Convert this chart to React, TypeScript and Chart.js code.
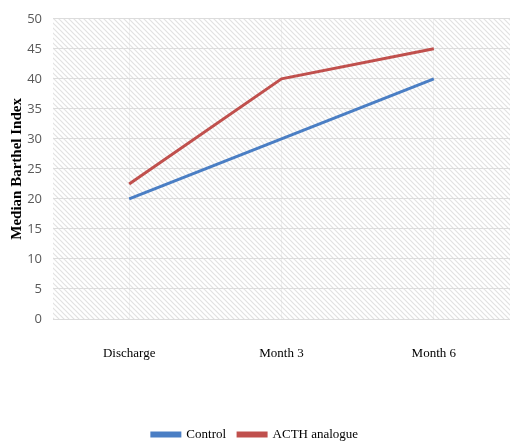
import React, { useEffect, useRef } from "react";
import { Chart, registerables } from "chart.js";

Chart.register(...registerables);

const categories = ["Discharge", "Month 3", "Month 6"];
const controlValues = [20, 30, 40];
const acthValues = [22.5, 40, 45];
const seriesNames = ["Control", "ACTH analogue"];
const yTitle = "Median Barthel Index";

const BLUE = "#4A7EC4";
const RED = "#C0504D";

function makePattern(): CanvasPattern | string {
  const n = 5;
  const c = document.createElement("canvas");
  c.width = n;
  c.height = n;
  const g = c.getContext("2d");
  if (!g) return "#fff";
  g.fillStyle = "#ffffff";
  g.fillRect(0, 0, n, n);
  g.strokeStyle = "#e2e2e2";
  g.lineWidth = 1.2;
  g.beginPath();
  g.moveTo(-1, -1);
  g.lineTo(n + 1, n + 1);
  g.moveTo(-1, n - 1);
  g.lineTo(1, n + 1);
  g.moveTo(n - 1, -1);
  g.lineTo(n + 1, 1);
  g.stroke();
  const p = g.createPattern(c, "repeat");
  return p || "#fff";
}

const hatchPlugin = {
  id: "hatch",
  beforeDraw(chart: any) {
    const { ctx, chartArea } = chart;
    if (!chartArea) return;
    ctx.save();
    ctx.fillStyle = makePattern();
    ctx.fillRect(chartArea.left, chartArea.top, chartArea.right - chartArea.left, chartArea.bottom - chartArea.top);
    ctx.restore();
  },
};

export default function App() {
  const ref = useRef<HTMLCanvasElement | null>(null);
  useEffect(() => {
    document.body.style.margin = "0";
    if (!ref.current) return;
    const chart = new Chart(ref.current, {
      type: "line",
      data: {
        labels: categories,
        datasets: [
          {
            label: seriesNames[0],
            data: controlValues,
            borderColor: BLUE,
            backgroundColor: BLUE,
            borderWidth: 3,
            pointRadius: 0,
            tension: 0,
          },
          {
            label: seriesNames[1],
            data: acthValues,
            borderColor: RED,
            backgroundColor: RED,
            borderWidth: 3,
            pointRadius: 0,
            tension: 0,
          },
        ],
      },
      options: {
        responsive: false,
        animation: false,
        devicePixelRatio: 1,
        layout: { padding: { top: 18, right: 0, left: 0, bottom: -10 } },
        plugins: {
          tooltip: { enabled: false },
          legend: {
            position: "bottom",
            labels: {
              boxWidth: 28,
              boxHeight: 3,
              padding: 12,
              color: "#000",
              font: { family: "'Liberation Serif', 'Times New Roman', serif", size: 13 },
            },
          },
        },
        scales: {
          x: {
            offset: true,
            grid: { display: true, color: "rgba(210,210,210,0.3)", drawTicks: false, offset: false },
            border: { display: false },
            ticks: {
              padding: 27,
              color: "#000",
              font: { family: "'Liberation Serif', 'Times New Roman', serif", size: 13 },
            },
            afterFit(scale: any) {
              scale.height = 97;
            },
          },
          y: {
            min: 0,
            max: 50,
            ticks: {
              stepSize: 5,
              padding: 11,
              color: "#595959",
              font: { family: "'Open Sans', 'DejaVu Sans', sans-serif", size: 13 },
            },
            grid: { color: "#dcdcdc", drawTicks: false },
            border: { display: false },
            title: {
              display: true,
              text: yTitle,
              color: "#000",
              padding: { top: 8, bottom: 0 },
              font: { family: "'Liberation Serif', 'Times New Roman', serif", size: 15, weight: "bold" },
            },
            afterFit(scale: any) {
              scale.width = 53;
            },
          },
        },
      },
      plugins: [hatchPlugin],
    } as any);
    return () => chart.destroy();
  }, []);
  return <canvas ref={ref} width={510} height={441} style={{ display: "block" }} />;
}
